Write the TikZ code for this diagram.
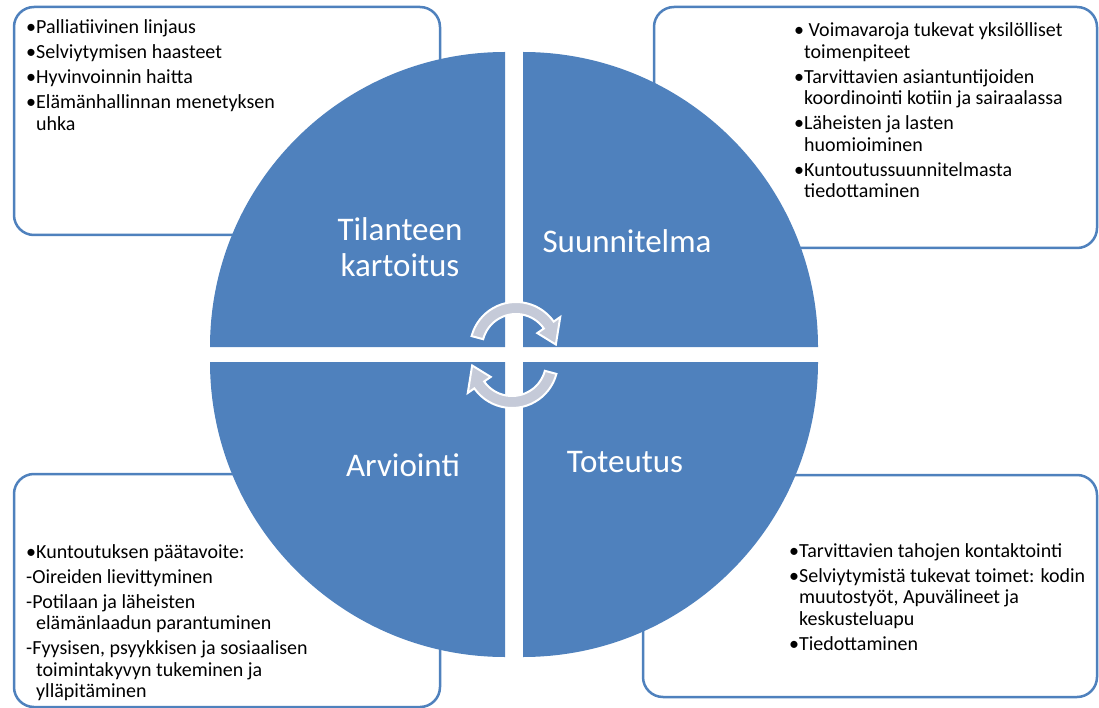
\documentclass[tikz,border=0pt]{standalone}
\usepackage{fontspec}
\setmainfont{Carlito}
\usepackage{tikz}
\pgfdeclarelayer{bg}
\pgfsetlayers{bg,main}
\lineskiplimit=-100pt
\definecolor{cycblue}{RGB}{79,129,189}
\definecolor{turngray}{RGB}{197,202,216}
\tikzset{infobox/.style={draw=cycblue, line width=2.5pt, rounded corners=20pt, fill=white, inner sep=0pt},
  infotext/.style={anchor=base west, align=left, inner sep=0pt, font=\fontsize{20}{21.5}\selectfont},
  phase/.style={text=white, align=center, font=\fontsize{33}{36}\selectfont},
  quarter/.style={fill=cycblue, draw=none},
  turn/.style={fill=turngray, draw=white, line width=2pt}}
\newcommand{\itemgap}{\\[3.5pt]}
\newcommand{\cont}{\phantom{•}}
\newcommand{\turnarrow}{(195:46) arc[start angle=195, end angle=325, radius=46] -- (325:54) -- (355:40) -- (325:26) -- (325:34) arc[start angle=325, end angle=195, radius=34] -- cycle}

\begin{document}
\begin{tikzpicture}[x=1pt, y=-1pt]
    \useasboundingbox (0,0) rectangle (1099,708);

    \begin{pgfonlayer}{bg}
        \node (kartbox) [infobox, minimum width=426pt, minimum height=228pt] at (227,121) {};
        \node (suunbox) [infobox, minimum width=443pt, minimum height=241pt] at (875.5,127.5) {};
        \node (arvbox) [infobox, minimum width=426pt, minimum height=233pt] at (227,590.5) {};
        \node (totbox) [infobox, minimum width=454pt, minimum height=222pt] at (870,586) {};
    \end{pgfonlayer}

    \fill[quarter] (505,347) -- (210,347) arc[start angle=180, end angle=270, radius=295] -- cycle;
    \fill[quarter] (523,347) -- (523,52) arc[start angle=270, end angle=360, radius=295] -- cycle;
    \fill[quarter] (505,362) -- (505,657) arc[start angle=90, end angle=180, radius=295] -- cycle;
    \fill[quarter] (523,362) -- (818,362) arc[start angle=0, end angle=90, radius=295] -- cycle;

    \node (kart) [phase] at (400,247) {Tilanteen\\kartoitus};
    \node (suun) [phase] at (627,241) {Suunnitelma};
    \node (arv) [phase] at (403,465) {Arviointi};
    \node (tot) [phase] at (625,462) {Toteutus};

    \begin{scope}[shift={(516,348)}]
        \draw[turn] \turnarrow;
    \end{scope}
    \begin{scope}[shift={(512,362)}, rotate=180]
        \draw[turn] \turnarrow;
    \end{scope}

    \node (karttext) [infotext] at (26,130.5) {•Palliatiivinen linjaus\itemgap
        •Selviytymisen haasteet\itemgap
        •Hyvinvoinnin haitta\itemgap
        •Elämänhallinnan menetyksen\\
        \cont uhka};
    \node (suuntext) [infotext] at (794,198) {• Voimavaroja tukevat yksilölliset\\
        \cont toimenpiteet\itemgap
        •Tarvittavien asiantuntijoiden\\
        \cont koordinointi kotiin ja sairaalassa\itemgap
        •Läheisten ja lasten\\
        \cont huomioiminen\itemgap
        •Kuntoutussuunnitelmasta\\
        \cont tiedottaminen};
    \node (arvtext) [infotext] at (26,697.5) {•Kuntoutuksen päätavoite:\itemgap
        -Oireiden lievittyminen\itemgap
        -Potilaan ja läheisten\\
        \cont elämänlaadun parantuminen\itemgap
        -Fyysisen, psyykkisen ja sosiaalisen\\
        \cont toimintakyvyn tukeminen ja\\
        \cont ylläpitäminen};
    \node (tottext) [infotext] at (789,650) {•Tarvittavien tahojen kontaktointi\itemgap
        •Selviytymistä tukevat toimet: kodin\\
        \cont muutostyöt, Apuvälineet ja\\
        \cont keskusteluapu\itemgap
        •Tiedottaminen};
\end{tikzpicture}
\end{document}
